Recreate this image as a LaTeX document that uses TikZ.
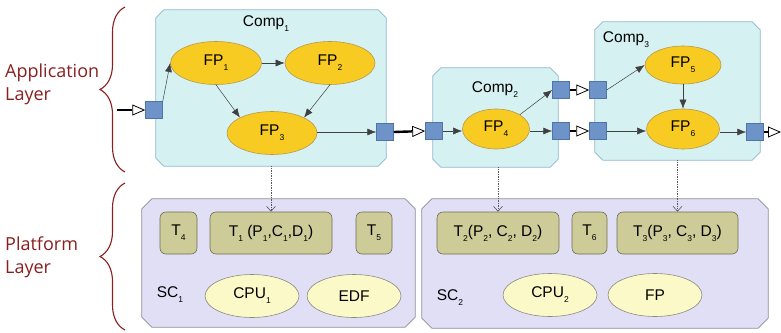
\documentclass[tikz,border=0pt]{standalone}
\usepackage{fontspec}
\setmainfont{Liberation Sans}
\newfontfamily\layerfont{Open Sans}
\usetikzlibrary{arrows.meta,shapes.geometric,decorations.pathreplacing}
\definecolor{compfill}{HTML}{D6F1F1}
\definecolor{compdraw}{HTML}{8DB7D2}
\definecolor{fpfill}{HTML}{F7CB22}
\definecolor{fpdraw}{HTML}{B6994D}
\definecolor{portfill}{HTML}{6E93C9}
\definecolor{portdraw}{HTML}{4F74A8}
\definecolor{scfill}{HTML}{E1DFF5}
\definecolor{scdraw}{HTML}{8C8C96}
\definecolor{tfill}{HTML}{CDCB97}
\definecolor{tdraw}{HTML}{6F6F55}
\definecolor{cpufill}{HTML}{FCF9C9}
\definecolor{cpudraw}{HTML}{8A8A80}
\definecolor{layercol}{HTML}{8A1F1F}
\newcommand\sbs[1]{\raisebox{-0.6ex}{\fontsize{8.5}{8.5}\selectfont #1}}
% chamfered outline around a named rectangular node: {node}{cut}{style}
\newcommand\chamferbox[3]{%
  \path[#3] ([xshift=#2]#1.north west) -- ([xshift=-#2]#1.north east)
    -- ([yshift=-#2]#1.north east) -- ([yshift=#2]#1.south east)
    -- ([xshift=-#2]#1.south east) -- ([xshift=#2]#1.south west)
    -- ([yshift=#2]#1.south west) -- ([yshift=-#2]#1.north west) -- cycle;}
\begin{document}
\begin{tikzpicture}[x=1pt,y=-1pt,font=\fontsize{15.5}{18}\selectfont,
  area/.style={rectangle, inner sep=0pt},
  compstyle/.style={fill=compfill, draw=compdraw, line width=0.7pt},
  scstyle/.style={fill=scfill, draw=scdraw, line width=0.7pt},
  fpnode/.style={ellipse, fill=fpfill, draw=fpdraw, line width=0.6pt, inner sep=0pt},
  cpunode/.style={ellipse, fill=cpufill, draw=cpudraw, line width=0.6pt, inner sep=0pt, minimum width=94pt, minimum height=43pt},
  port/.style={rectangle, fill=portfill, draw=portdraw, line width=0.5pt, minimum size=17pt, inner sep=0pt},
  tbox/.style={rectangle, rounded corners=6pt, fill=tfill, draw=tdraw, line width=0.6pt, minimum height=42pt, inner sep=0pt},
  inarr/.style={draw=black!75, line width=0.5pt, -{Latex[length=9pt,width=7pt]}},
  extarr/.style={black, line width=2.4pt, -{Triangle[open,length=13pt,width=11pt,line width=0.8pt]}},
  maparr/.style={draw=black!65, densely dotted, line width=0.7pt, -{Straight Barb[length=5pt,width=9pt,line width=0.6pt]}},
  layerlbl/.style={font=\layerfont\fontsize{18}{23}\selectfont, text=layercol, align=left, anchor=west, inner sep=0pt},
  layerbrace/.style={draw=layercol, line width=1.1pt, decorate, decoration={brace, amplitude=25pt, aspect=0.5}}]
\useasboundingbox (0,0) rectangle (781,332);

% layer labels and braces
\node[layerlbl] (applbl) at (5,84) {Application\\Layer};
\node[layerlbl] (platlbl) at (5,257) {Platform\\Layer};
\draw[layerbrace] (125,172) -- (125,7);
\draw[layerbrace] (125,330) -- (125,183);

% platform boxes
\node[area, minimum width=273pt, minimum height=128pt] (sc1) at (278.5,263) {};
\node[area, minimum width=346pt, minimum height=129pt] (sc2) at (595,263.5) {};
\chamferbox{sc1}{10pt}{scstyle}
\chamferbox{sc2}{10pt}{scstyle}

% component boxes
\node[area, minimum width=230pt, minimum height=156pt] (comp1) at (271,88) {};
\node[area, minimum width=125pt, minimum height=99pt] (comp2) at (495.5,117.5) {};
\node[area, minimum width=165pt, minimum height=138pt] (comp3) at (677.5,91) {};
\chamferbox{comp1}{8pt}{compstyle}
\chamferbox{comp2}{8pt}{compstyle}
\chamferbox{comp3}{8pt}{compstyle}
\node (comp1lbl) at (266,24) {Comp\sbs{1}};
\node (comp2lbl) at (495,90) {Comp\sbs{2}};
\node (comp3lbl) at (626,40) {Comp\sbs{3}};

% function ellipses
\node[fpnode, minimum width=91pt, minimum height=43pt] (fp1) at (216,63) {FP\sbs{1}};
\node[fpnode, minimum width=90pt, minimum height=43pt] (fp2) at (330,63) {FP\sbs{2}};
\node[fpnode, minimum width=90pt, minimum height=43pt] (fp3) at (272,133) {FP\sbs{3}};
\node[fpnode, minimum width=67pt, minimum height=40pt] (fp4) at (496,129) {FP\sbs{4}};
\node[fpnode, minimum width=76pt, minimum height=38pt] (fp5) at (683,65) {FP\sbs{5}};
\node[fpnode, minimum width=73pt, minimum height=40pt] (fp6) at (683,129) {FP\sbs{6}};

% ports
\node[port] (p1in) at (154,110) {};
\node[port] (p1out) at (385,132) {};
\node[port] (p2in) at (434,131) {};
\node[port] (p2outa) at (561,90) {};
\node[port] (p2outb) at (561,131) {};
\node[port] (p3ina) at (598,90) {};
\node[port] (p3inb) at (598,131) {};
\node[port] (p3out) at (755,132) {};
\coordinate (srcin) at (117,110);
\coordinate (sinkout) at (781,132);

% internal arrows
\draw[inarr] (p1in.north east) -- (fp1.west);
\draw[inarr] (fp1.east) -- (fp2.west);
\draw[inarr] (fp1.south) -- (fp3.north west);
\draw[inarr] (fp2.south) -- (fp3.north east);
\draw[inarr] (fp3.east |- p1out) -- (p1out.west);
\draw[inarr] (p2in.east) -- (fp4.west |- p2in);
\draw[inarr] (fp4.north east) -- (p2outa.west);
\draw[inarr] (fp4.east |- p2outb) -- (p2outb.west);
\draw[inarr] (p3ina.east) -- (fp5.west);
\draw[inarr] (fp5.south) -- (fp6.north);
\draw[inarr] (p3inb.east) -- (fp6.west |- p3inb);
\draw[inarr] (fp6.east |- p3out) -- (p3out.west);

% external arrows
\draw[extarr] (srcin) -- (p1in.west);
\draw[extarr] (p1out.east) -- (p2in.west);
\draw[extarr] (p2outa.east) -- (p3ina.west);
\draw[extarr] (p2outb.east) -- (p3inb.west);
\draw[extarr] (p3out.east) -- (sinkout);

% tasks
\node[tbox, minimum width=37pt] (t4) at (178.5,233) {T\sbs{4}};
\node[tbox, minimum width=122pt] (t1) at (271,233) {T\sbs{1} (P\sbs{1},C\sbs{1},D\sbs{1})};
\node[tbox, minimum width=36pt] (t5) at (374,233) {T\sbs{5}};
\node[tbox, minimum width=122pt] (t2) at (498,233) {T\sbs{2}(P\sbs{2}, C\sbs{2}, D\sbs{2})};
\node[tbox, minimum width=35pt] (t6) at (589.5,233) {T\sbs{6}};
\node[tbox, minimum width=121pt] (t3) at (677.5,233) {T\sbs{3}(P\sbs{3}, C\sbs{3}, D\sbs{3})};

% mapping arrows
\draw[maparr] (t1.north |- comp1.south) -- (t1.north);
\draw[maparr] (t2.north |- comp2.south) -- (t2.north);
\draw[maparr] (t3.north |- comp3.south) -- (t3.north);

% platform contents
\node (sc1lbl) at (170,295) {SC\sbs{1}};
\node (sc2lbl) at (450,298) {SC\sbs{2}};
\node[cpunode] (cpu1) at (252,296) {CPU\sbs{1}};
\node[cpunode] (edf) at (354,296) {EDF};
\node[cpunode] (cpu2) at (550,295) {CPU\sbs{2}};
\node[cpunode] (fp) at (655,295) {FP};
\end{tikzpicture}
\end{document}
